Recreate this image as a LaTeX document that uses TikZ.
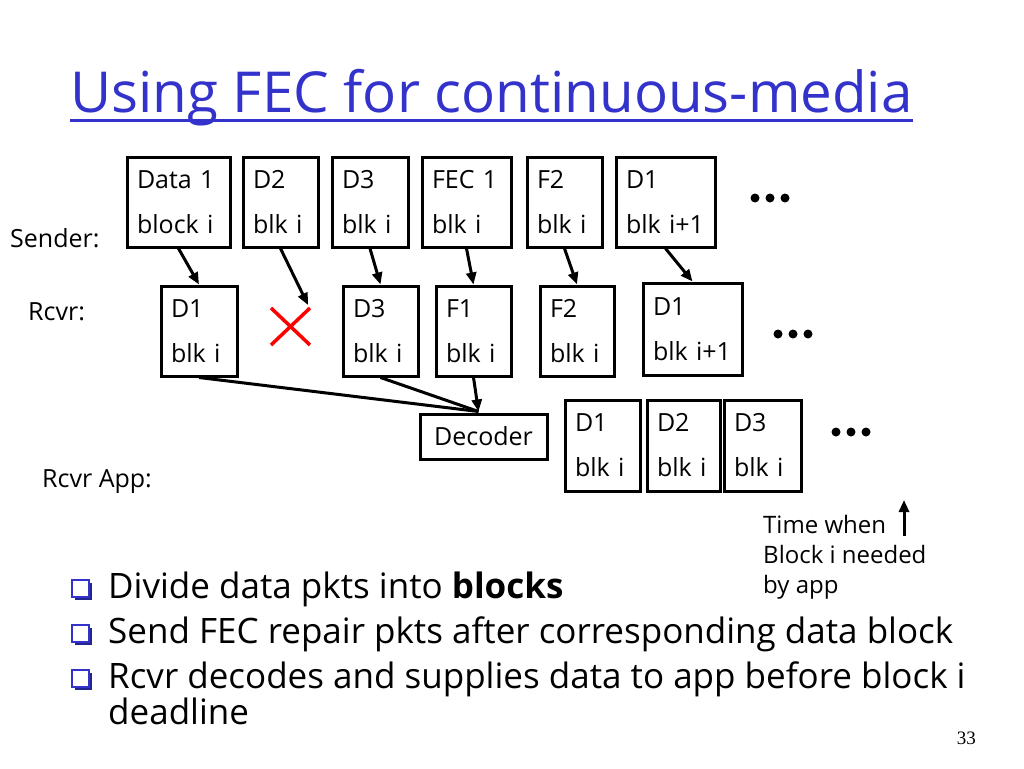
\documentclass[tikz,border=0pt]{standalone}
\usepackage{fontspec}
\setmainfont{Open Sans}
\newfontfamily\pagenofont{Liberation Serif}
\usetikzlibrary{arrows.meta,calc,positioning,shadows}

\definecolor{titleblue}{RGB}{51,51,204}
\tikzset{
  pkt/.style={draw, line width=3pt, minimum height=90pt, inner xsep=10pt, align=left,
    font=\fontsize{25}{45}\selectfont},
  decbox/.style={draw, line width=3pt, minimum width=127pt, minimum height=45pt,
    font=\fontsize{25}{30}\selectfont},
  pktarrow/.style={line width=3pt, -{Triangle[length=12pt,width=10pt]}},
  lbl/.style={anchor=base west, inner sep=0pt, font=\fontsize{25}{30}\selectfont},
  btxt/.style={anchor=base west, inner sep=0pt, font=\fontsize{35}{40}\selectfont},
  bbox/.style={draw=titleblue, line width=2pt, fill=white, minimum size=17pt, inner sep=0pt,
    drop shadow={shadow xshift=3pt, shadow yshift=-3pt, fill=titleblue!70!black, opacity=1}},
}

\begin{document}
\begin{tikzpicture}[x=1pt,y=-1pt]
\useasboundingbox[fill=white] (0,0) rectangle (1024,768);

% title
\node[anchor=base west, inner sep=0pt, text=titleblue, font=\fontsize{56.5}{60}\selectfont]
  (title) at (70,112) {Using FEC for continuous-media};
\draw[titleblue, line width=3pt] ($(title.base west)+(0,8)$) -- ($(title.base east)+(0,8)$);

% row labels
\node[lbl] (snd) at (10,247) {Sender:};
\node[lbl] (rcv) at (28,320) {Rcvr:};
\node[lbl] (app) at (42,487) {Rcvr App:};

% sender
\node[pkt, minimum width=103pt, text width=83pt] (s1) at (178.5,202) {Data 1\\block i};
\node[pkt, minimum width=75pt, text width=55pt] (s2) at (280.5,202) {D2\\blk i};
\node[pkt, minimum width=76pt, text width=56pt] (s3) at (370,202) {D3\\blk i};
\node[pkt, minimum width=89pt, text width=69pt] (s4) at (466.5,202) {FEC 1\\blk i};
\node[pkt, minimum width=75pt, text width=55pt] (s5) at (564.5,202) {F2\\blk i};
\node[pkt, minimum width=99pt, text width=79pt] (s6) at (665.5,202) {D1\\blk i+1};
\foreach \x in {0,15,30} \fill (755+\x,198) circle (4.5pt);

% receiver
\node[pkt, minimum width=76pt, text width=56pt] (r1) at (199,331) {D1\\blk i};
\coordinate (drop) at (308,305);
\draw[red, line width=3.5pt] (271,308) -- (310,345) (271,345) -- (310,308);
\node[pkt, minimum width=75pt, text width=55pt] (r3) at (380.5,331) {D3\\blk i};
\node[pkt, minimum width=75pt, text width=55pt] (r4) at (473.5,331) {F1\\blk i};
\node[pkt, minimum width=74pt, text width=54pt] (r5) at (577,331) {F2\\blk i};
\node[pkt, minimum width=99pt, minimum height=92pt, text width=79pt] (r6) at (692.5,329) {D1\\blk i+1};
\foreach \x in {0,15,30} \fill (778+\x,334) circle (4.5pt);

\draw[pktarrow] (s1.south) -- (r1.north);
\draw[pktarrow] (s2.south) -- (drop);
\draw[pktarrow] (s3.south) -- (r3.north);
\draw[pktarrow] (s4.south) -- (r4.north);
\draw[pktarrow] (s5.south) -- (r5.north);
\draw[pktarrow] (s6.south) -- (r6.north);

% decoder and app
\node[decbox] (dec) at (483.5,436.5) {Decoder};
\coordinate (decin) at ($(dec.north)+(-5,-1)$);
\draw[line width=3pt] (r1.south) -- (decin);
\draw[line width=3pt] (r3.south) -- (decin);
\draw[pktarrow] (r4.south) -- (decin);

\node[pkt, minimum width=75pt, minimum height=91pt, text width=55pt] (a1) at (602.5,445.5) {D1\\blk i};
\node[pkt, minimum width=73pt, minimum height=91pt, text width=53pt] (a2) at (683.5,445.5) {D2\\blk i};
\node[pkt, minimum width=77pt, minimum height=91pt, text width=57pt] (a3) at (762.5,445.5) {D3\\blk i};
\foreach \x in {0,15,30} \fill (836+\x,432) circle (4.5pt);

% deadline mark
\node[anchor=north west, inner sep=0pt, align=left, font=\fontsize{24}{30}\selectfont]
  (need) at (763,515) {Time when\\Block i needed\\by app};
\coordinate (tfoot) at (904,536);
\coordinate (ttop) at (904,500);
\draw[pktarrow] (tfoot) -- (ttop);

% bullets
\node[bbox] (b1) at (80,588) {};
\node[bbox] (b2) at (80,633) {};
\node[bbox] (b3) at (80,678) {};
\node[btxt] (t1) at (108,598) {Divide data pkts into \textbf{blocks}};
\node[btxt] (t2) at (108,643) {Send FEC repair pkts after corresponding data block};
\node[btxt] (t3) at (108,688) {Rcvr decodes and supplies data to app before block i};
\node[btxt] (t4) at (108,724) {deadline};

\node[anchor=base east, inner sep=0pt, font=\pagenofont\fontsize{19}{22}\selectfont] (pg) at (976,744) {33};
\end{tikzpicture}
\end{document}
